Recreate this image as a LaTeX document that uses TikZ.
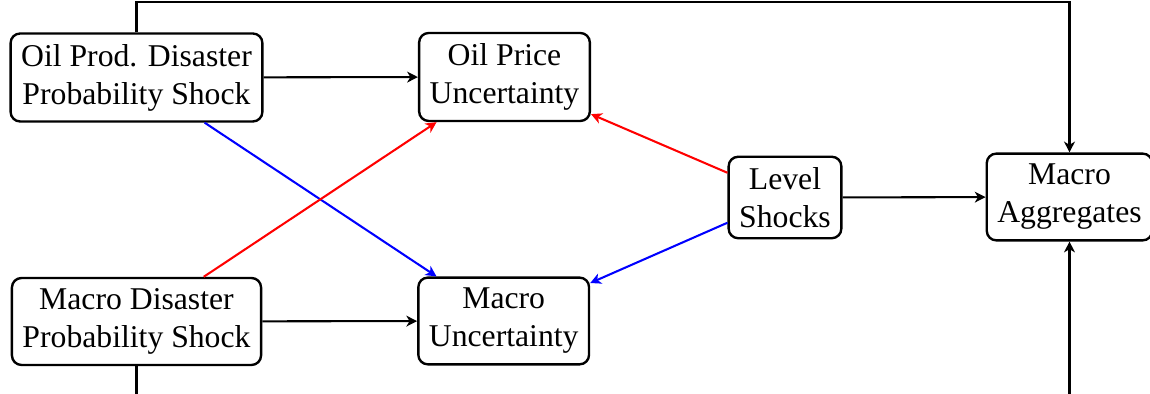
\documentclass[tikz,border=0pt]{standalone}
\usepackage{fontspec}
\setmainfont{Liberation Serif}
\usetikzlibrary{arrows.meta}
\begin{document}
\begin{tikzpicture}[x=0.3155pt,y=-0.3155pt,
  box/.style={draw, rounded corners=3pt, align=center, line width=0.75pt, inner sep=3.33pt, fill=white},
  conn/.style={-{Stealth[length=3.4pt,width=3.4pt,inset=1pt]}, line width=0.65pt},
  redconn/.style={conn, red},
  blueconn/.style={conn, blue}]
\useasboundingbox (0,0) rectangle (1150,394);
\node[box] (oilprod) at (136.5,77.5) {Oil Prod. Disaster\\Probability Shock};
\node[box] (macrodis) at (136.5,321.5) {Macro Disaster\\Probability Shock};
\node[box] (oilunc) at (504.5,77) {Oil Price\\Uncertainty};
\node[box] (macrounc) at (503.7,321) {Macro\\Uncertainty};
\node[box] (level) at (785,197.5) {Level\\Shocks};
\node[box] (agg) at (1069.5,197) {Macro\\Aggregates};
\draw[conn] (oilprod) -- (oilunc);
\draw[conn] (macrodis) -- (macrounc);
\draw[blueconn] (oilprod) -- (macrounc);
\draw[redconn] (macrodis) -- (oilunc);
\draw[redconn] (level) -- (oilunc);
\draw[blueconn] (level) -- (macrounc);
\draw[conn] (level) -- (agg);
\draw[conn] (oilprod.north) -- ++(0,-30) -| (agg.north);
\draw[conn] (macrodis.south) -- ++(0,31) -| (agg.south);
\end{tikzpicture}
\end{document}
